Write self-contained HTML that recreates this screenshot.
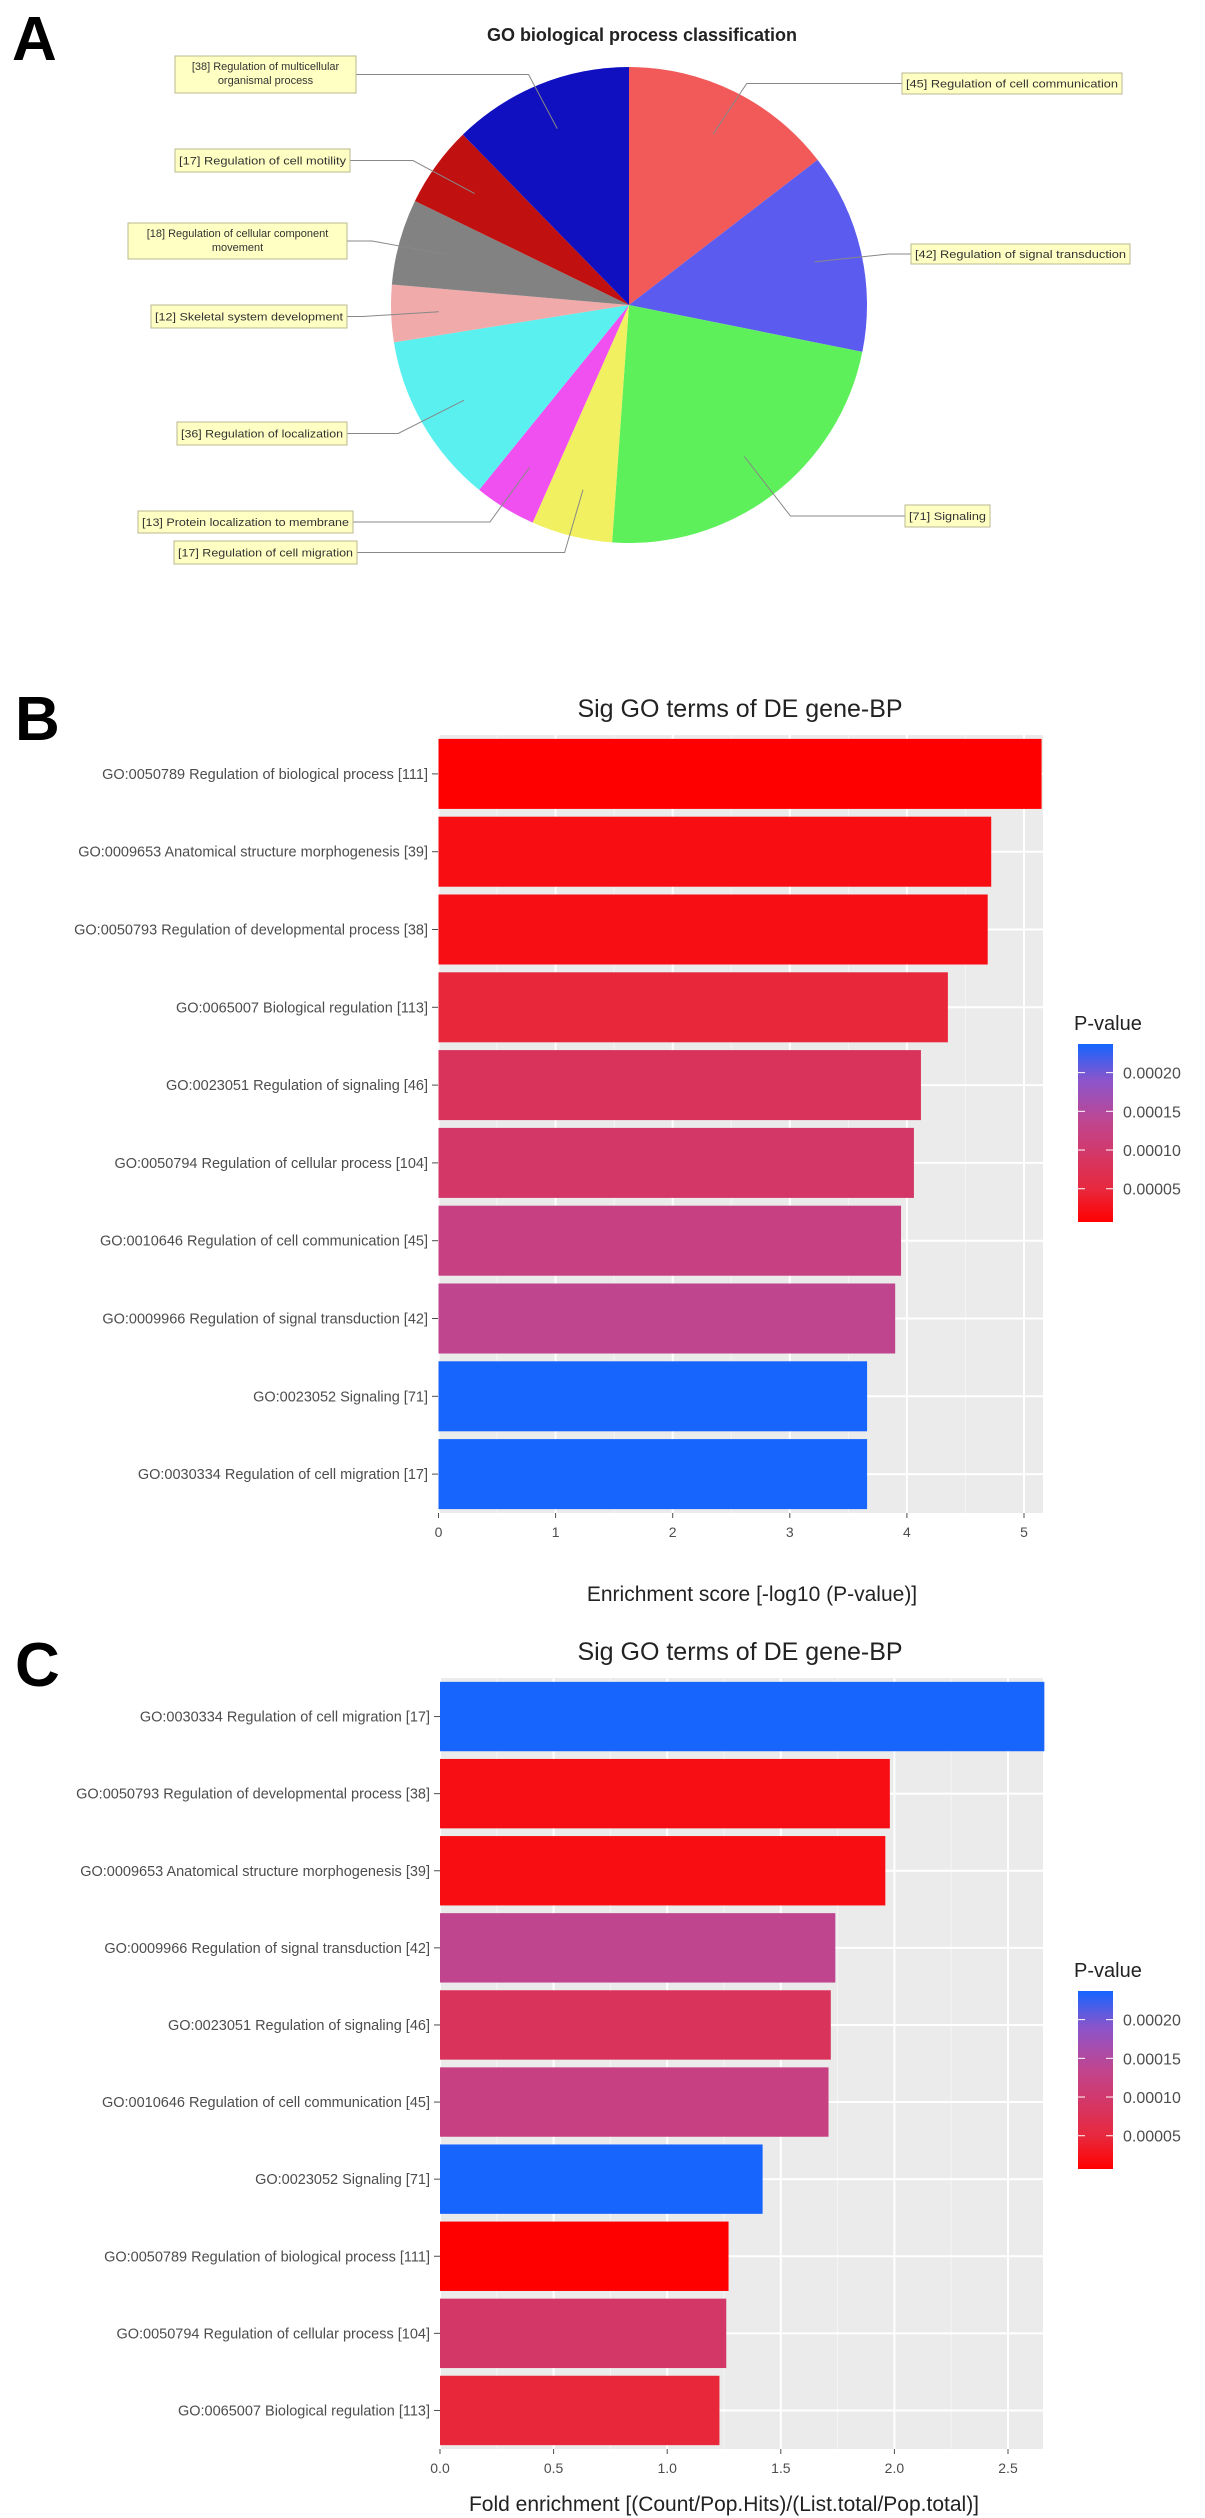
<!DOCTYPE html>
<html><head><meta charset="utf-8"><style>
html,body{margin:0;padding:0;background:#fff;}
svg{display:block;font-family:"Liberation Sans",Arial,sans-serif;}
</style></head><body>
<svg id="fig" width="1205" height="2518" viewBox="0 0 1205 2518" xmlns="http://www.w3.org/2000/svg">
<defs>
<linearGradient id="pgrad" x1="0" y1="1" x2="0" y2="0">
<stop offset="0" stop-color="#ff0000"/><stop offset="0.18" stop-color="#e8283c"/><stop offset="0.56" stop-color="#c0458f"/><stop offset="0.8" stop-color="#8a55cc"/><stop offset="1" stop-color="#1565ff"/>
</linearGradient>
</defs>
<text x="12" y="60" font-size="62" font-weight="bold">A</text>
<text x="15" y="740" font-size="62" font-weight="bold">B</text>
<text x="15" y="1686" font-size="62" font-weight="bold">C</text>
<text x="642" y="41" font-size="18" font-weight="bold" text-anchor="middle" fill="#222">GO biological process classification</text>
<g id="pie"></g>
<g id="chartB"></g>
<g id="chartC"></g>
</svg>
<script>
// ---- Pie data ----
const pieLabels = ["[45] Regulation of cell communication","[42] Regulation of signal transduction","[71] Signaling","[17] Regulation of cell migration","[13] Protein localization to membrane","[36] Regulation of localization","[12] Skeletal system development","[18] Regulation of cellular component movement","[17] Regulation of cell motility","[38] Regulation of multicellular organismal process"];
const pieCounts = [45,42,71,17,13,36,12,18,17,38];
const pieColors = ["#f25a5a","#5b5bf0","#5ef05a","#f0f060","#f050f0","#5af0f0","#f0aaaa","#828282","#c01010","#1010c0"];

// ---- Chart B data ----
const bTerms = ["GO:0050789 Regulation of biological process [111]","GO:0009653 Anatomical structure morphogenesis [39]","GO:0050793 Regulation of developmental process [38]","GO:0065007 Biological regulation [113]","GO:0023051 Regulation of signaling [46]","GO:0050794 Regulation of cellular process [104]","GO:0010646 Regulation of cell communication [45]","GO:0009966 Regulation of signal transduction [42]","GO:0023052 Signaling [71]","GO:0030334 Regulation of cell migration [17]"];
const bScores = [5.15,4.72,4.69,4.35,4.12,4.06,3.95,3.90,3.66,3.66];
const bTicks = [0,1,2,3,4,5];

// ---- Chart C data ----
const cTerms = ["GO:0030334 Regulation of cell migration [17]","GO:0050793 Regulation of developmental process [38]","GO:0009653 Anatomical structure morphogenesis [39]","GO:0009966 Regulation of signal transduction [42]","GO:0023051 Regulation of signaling [46]","GO:0010646 Regulation of cell communication [45]","GO:0023052 Signaling [71]","GO:0050789 Regulation of biological process [111]","GO:0050794 Regulation of cellular process [104]","GO:0065007 Biological regulation [113]"];
const cFold = [2.66,1.98,1.96,1.74,1.72,1.71,1.42,1.27,1.26,1.23];
const cScores = [3.66,4.69,4.72,3.90,4.12,3.95,3.66,5.15,4.06,4.35];
const cTicks = [0,0.5,1.0,1.5,2.0,2.5];
const legendTicks = [0.00005,0.0001,0.00015,0.0002];

const NS="http://www.w3.org/2000/svg";
function mk(tag, attrs, parent){const e=document.createElementNS(NS,tag);for(const k in attrs)e.setAttribute(k,attrs[k]);parent.appendChild(e);return e;}

// color scale
const stops=[[0,[255,0,0]],[0.18,[232,40,60]],[0.56,[192,69,143]],[0.8,[138,85,204]],[1,[21,101,255]]];
const P_MIN=0.000007, P_MAX=0.00022;
function pcol(p){let t=(p-P_MIN)/(P_MAX-P_MIN);t=Math.max(0,Math.min(1,t));
 for(let i=1;i<stops.length;i++){if(t<=stops[i][0]){const a=stops[i-1],b=stops[i];const f=(t-a[0])/(b[0]-a[0]);
 const c=a[1].map((v,j)=>Math.round(v+(b[1][j]-v)*f));return "rgb("+c.join(",")+")";}}return "rgb(21,101,255)";}

// ---- Pie ----
(function(){
 const g=document.getElementById('pie');
 const cx=629, cy=305, r=238;
 const total=pieCounts.reduce((a,b)=>a+b,0);
 const boxes=[[902,73,1122,94],[911,244,1130,264],[905,505,990,527],[174,541,357,564],[138,511,353,533],[177,422,347,445],[151,305,347,328],[128,223,347,259],[175,149,350,172],[175,56,356,93]];
 let a0=0;
 pieCounts.forEach((v,i)=>{
  const a1=a0+v/total*2*Math.PI;
  const x0=cx+r*Math.sin(a0),y0=cy-r*Math.cos(a0),x1=cx+r*Math.sin(a1),y1=cy-r*Math.cos(a1);
  const large=(a1-a0)>Math.PI?1:0;
  const s=mk('path',{d:`M${cx},${cy} L${x0},${y0} A${r},${r} 0 ${large} 1 ${x1},${y1} Z`,fill:pieColors[i]},g);
  
  
  const am=(a0+a1)/2;
  const px=cx+0.8*r*Math.sin(am),py=cy-0.8*r*Math.cos(am);
  const b=boxes[i]; const right=b[0]>cx; const by=(b[1]+b[3])/2;
  const bx=right?b[0]:b[2];
  const ex=cx+1.12*r*Math.sin(am);
  const l=mk('polyline',{points:`${bx},${by} ${ex},${by} ${px},${py}`,fill:'none',stroke:'#888','stroke-width':1},g);
  
  
  const rect=mk('rect',{x:b[0],y:b[1],width:b[2]-b[0],height:b[3]-b[1],fill:'#ffffc4',stroke:'#b8b890','stroke-width':1},g);
  
  
  const txt=pieLabels[i];
  const mx=(b[0]+b[2])/2;
  if(b[3]-b[1]>30){
   const sp=txt.lastIndexOf(' ', txt.length-10);
   const parts=i===9?["[38] Regulation of multicellular","organismal process"]:["[18] Regulation of cellular component","movement"];
   parts.forEach((p,k)=>{const t=mk('text',{x:mx,y:b[1]+14+k*14,'font-size':11,'text-anchor':'middle',fill:'#333'},g);t.textContent=p;
    
    });
  } else {
   const t=mk('text',{x:mx,y:by+4,'font-size':11,'text-anchor':'middle',fill:'#333',textLength:(b[2]-b[0]-8),lengthAdjust:'spacingAndGlyphs'},g);t.textContent=txt;
   
   
  }
  a0=a1;
 });
})();

// ---- Bar charts ----
function barChart(gid, terms, vals, scores, ticks, cfg){
 const g=document.getElementById(gid);
 const L=cfg.left,R=1043,T=cfg.top,B=cfg.bottom;
 const xs=v=>cfg.x0+v*cfg.unit;
 const n=terms.length, step=(B-T)/n;
 const bg=mk('rect',{x:L,y:T,width:R-L,height:B-T,fill:'#ebebeb'},g);
 
 
 // gridlines
 const tstep=ticks[1]-ticks[0];
 for(let i=0;i<ticks.length;i++){
  const mn=ticks[i]+tstep/2;
  if(xs(mn)<R) mk('line',{x1:xs(mn),x2:xs(mn),y1:T,y2:B,stroke:'#f5f5f5','stroke-width':1},g);
  mk('line',{x1:xs(ticks[i]),x2:xs(ticks[i]),y1:T,y2:B,stroke:'#fff','stroke-width':2},g);
 }
 for(let i=0;i<n;i++){const yc=T+step*(i+0.5);mk('line',{x1:L,x2:R,y1:yc,y2:yc,stroke:'#fff','stroke-width':2},g);}
 terms.forEach((t,i)=>{
  const yc=T+step*(i+0.5), h=step*0.9;
  const bar=mk('rect',{x:xs(0),y:yc-h/2,width:xs(vals[i])-xs(0),height:h,fill:pcol(Math.pow(10,-scores[i]))},g);
  
  
  const lb=mk('text',{x:L-10,y:yc+5,'font-size':14.5,'text-anchor':'end',fill:'#4d4d4d'},g);lb.textContent=t;
  
  
  mk('line',{x1:L-6,x2:L,y1:yc,y2:yc,stroke:'#4d4d4d','stroke-width':1},g);
 });
 ticks.forEach(v=>{
  mk('line',{x1:xs(v),x2:xs(v),y1:B,y2:B+5,stroke:'#4d4d4d','stroke-width':1},g);
  const tl=mk('text',{x:xs(v),y:B+24,'font-size':14,'text-anchor':'middle',fill:'#4d4d4d'},g);tl.textContent=cfg.fmt(v);
  
  
 });
 const ti=mk('text',{x:740,y:T-18,'font-size':25,'text-anchor':'middle',fill:'#222'},g);ti.textContent="Sig GO terms of DE gene-BP";
 
 
 const xt=mk('text',{x:cfg.xtX,y:cfg.xtY,'font-size':21,'text-anchor':'middle',fill:'#222'},g);xt.textContent=cfg.xtitle;
 
 
 // legend
 const lt=cfg.legTop, lh=178;
 const pl=mk('text',{x:1074,y:lt-14,'font-size':20,fill:'#222'},g);pl.textContent="P-value";
 
 
 const cb=mk('rect',{x:1078,y:lt,width:35,height:lh,fill:'url(#pgrad)'},g);
 
 
 legendTicks.forEach(p=>{
  const y=lt+lh-(p-P_MIN)/(0.000237-P_MIN)*lh;
  mk('line',{x1:1078,x2:1085,y1:y,y2:y,stroke:'#fff','stroke-width':1},g);
  mk('line',{x1:1106,x2:1113,y1:y,y2:y,stroke:'#fff','stroke-width':1},g);
  const t=mk('text',{x:1123,y:y+6,'font-size':16,fill:'#4d4d4d'},g);t.textContent=p.toFixed(5);
  
  
 });
}
barChart('chartB',bTerms,bScores,bScores,bTicks,{left:438,top:735,bottom:1513,x0:438.5,unit:117.1,fmt:v=>String(v),xtitle:"Enrichment score  [-log10 (P-value)]",xtX:752,xtY:1601,legTop:1044});
barChart('chartC',cTerms,cFold,cScores,cTicks,{left:440,top:1678,bottom:2449,x0:440,unit:227.2,fmt:v=>v.toFixed(1),xtitle:"Fold enrichment [(Count/Pop.Hits)/(List.total/Pop.total)]",xtX:724,xtY:2511,legTop:1991});
</script>
</body></html>
